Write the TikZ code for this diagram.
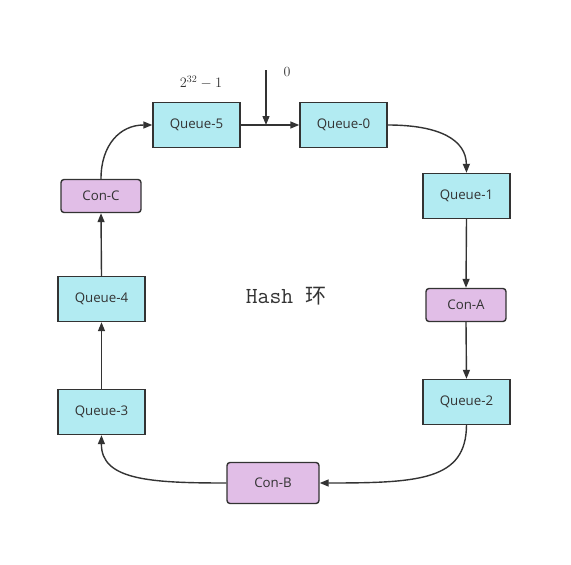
\documentclass[tikz,border=0pt]{standalone}
\usepackage{fontspec}
\setsansfont{Open Sans}
\newfontfamily\cjk{Noto Sans CJK SC}
\usetikzlibrary{arrows.meta}
\definecolor{qfill}{RGB}{178,235,242}
\definecolor{cfill}{RGB}{225,190,231}
\definecolor{edge}{RGB}{51,51,51}
\begin{document}
\begin{tikzpicture}[x=1pt,y=-1pt,
  qbox/.style={draw=edge,line width=1.4pt,fill=qfill,minimum width=87pt,minimum height=45pt,inner sep=0pt,font=\sffamily\fontsize{13.3}{15}\selectfont,text=edge},
  cbox/.style={draw=edge,line width=1.4pt,fill=cfill,rounded corners=3pt,minimum width=80pt,minimum height=33pt,inner sep=0pt,font=\sffamily\fontsize{13.3}{15}\selectfont,text=edge},
  conn/.style={draw=edge,line width=1.4pt,-{Triangle[length=9pt,width=7pt]}}]
\useasboundingbox (0,0) rectangle (571,565);
\node[qbox] (q5) at (196.5,125) {Queue-5};
\node[qbox] (q0) at (343.5,125) {Queue-0};
\node[qbox] (q1) at (466.5,196) {Queue-1};
\node[cbox] (ca) at (466,305) {Con-A};
\node[qbox] (q2) at (466.5,402) {Queue-2};
\node[cbox,minimum width=92pt,minimum height=41pt] (cb) at (273,483) {Con-B};
\node[qbox] (q3) at (101.5,412) {Queue-3};
\node[qbox] (q4) at (101.5,299) {Queue-4};
\node[cbox] (cc) at (101,196) {Con-C};
\node[font=\ttfamily\fontsize{23}{26}\selectfont,text=edge] (hash) at (286,296) {Hash {\cjk\fontsize{21}{24}\selectfont 环}};
\node[text=edge,font=\fontsize{14}{16}\selectfont] (max) at (201,82) {$2^{32}-1$};
\node[text=edge,font=\fontsize{14}{16}\selectfont] (zero) at (287,72) {0};
\coordinate (top) at (266,70);
\coordinate (mid) at (266,125);
\draw[conn] (q5.east) -- (q0.west);
\draw[conn] (top) -- (mid);
\draw[conn] (q0.east) .. controls (440,125) and (466,140) .. (q1.north);
\draw[conn] (q1.south) -- (ca.north);
\draw[conn] (ca.south) -- (q2.north);
\draw[conn] (q2.south) .. controls (466,480) and (420,483) .. (cb.east);
\draw[conn] (cb.west) .. controls (150,483) and (101,480) .. (q3.south);
\draw[conn] (q3.north) -- (q4.south);
\draw[conn] (q4.north) -- (cc.south);
\draw[conn] (cc.north) .. controls (101,145) and (120,125) .. (q5.west);
\end{tikzpicture}
\end{document}
